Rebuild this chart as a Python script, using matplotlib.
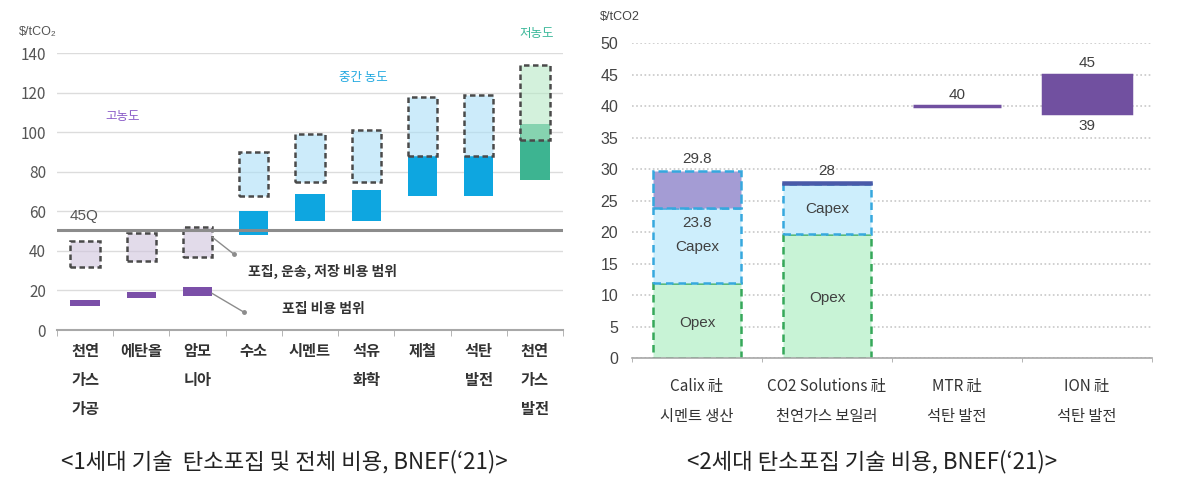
import matplotlib.pyplot as plt
import matplotlib.colors as mcolors
import numpy as np

plt.rcParams['font.family'] = ['Noto Sans CJK KR', 'DejaVu Sans']

# ---- data: 1st generation (left) ----
sectors = ['천연\n가스\n가공', '에탄올', '암모\n니아', '수소', '시멘트', '석유\n화학', '제철', '석탄\n발전', '천연\n가스\n발전']
groups = ['high', 'high', 'high', 'mid', 'mid', 'mid', 'mid', 'mid', 'low']
capture_lo = [12, 16, 17, 48, 55, 55, 68, 68, 76]
capture_hi = [15, 19, 22, 60, 69, 71, 88, 88, 104]
total_lo = [32, 35, 37, 68, 75, 75, 88, 88, 96]
total_hi = [45, 49, 52, 90, 99, 101, 118, 119, 134]
credit_45q = 50.5

# ---- data: 2nd generation (right) ----
companies = ['Calix 社\n시멘트 생산', 'CO2 Solutions 社\n천연가스 보일러', 'MTR 社\n석탄 발전', 'ION 社\n석탄 발전']
opex_top = [11.9, 19.8]
capex_top = [23.8, 27.6]
total_top = [29.8, 28.0]
range_lo = [40, 39]
range_hi = [40, 45]

solid_col = {'high': '#7b4fa8', 'mid': '#0ea6e0', 'low': '#3db491'}
box_col = {'high': '#cfc3dc', 'mid': '#aadff7', 'low': '#b7e9c6'}
text_col = {'high': '#8a5cc8', 'mid': '#22a9e0', 'low': '#3cb89a'}

fig = plt.figure(figsize=(11.92, 4.86), dpi=100)

# ================= left chart =================
ax1 = fig.add_axes([57/1192, 1-330/486, 506/1192, (330-53.3)/486])
x = np.arange(len(sectors))
w = 0.52
cap_h = np.array(capture_hi) - np.array(capture_lo)
tot_h = np.array(total_hi) - np.array(total_lo)
ax1.bar(x, cap_h, bottom=capture_lo, width=w, color=[solid_col[g] for g in groups], zorder=2)
ax1.bar(x, tot_h, bottom=total_lo, width=w,
        facecolor=[mcolors.to_rgba(box_col[g], 0.6) for g in groups],
        edgecolor='#4a4a4a', linestyle=(0, (2.2, 1.4)), linewidth=1.8, zorder=3)
ax1.axhline(credit_45q, color='#8c8c8c', lw=2.2, zorder=4)

ax1.set_xlim(-0.5, len(sectors)-0.5)
ax1.set_ylim(0, 140)
ax1.set_yticks(range(0, 141, 20))
ax1.grid(axis='y', color='#dcdcdc', lw=1)
ax1.set_axisbelow(True)
for s in ['top', 'right', 'left']:
    ax1.spines[s].set_visible(False)
ax1.spines['bottom'].set_color('#a8a8a8')
ax1.spines['bottom'].set_linewidth(1.5)
ax1.tick_params(axis='y', length=0, pad=8, labelsize=11, labelcolor='#555555')
ax1.set_xticks(x, sectors, fontsize=11, fontweight='bold', color='#333333', linespacing=2.0)
ax1.set_xticks(np.arange(-0.5, len(sectors), 1), minor=True)
ax1.tick_params(axis='x', which='major', length=0, pad=9)
ax1.tick_params(axis='x', which='minor', length=4, color='#a8a8a8')

ax1.text(-0.27, 57.5, '45Q', fontsize=11, color='#555555', va='center', ha='left',
         family=['Liberation Sans', 'DejaVu Sans'])
ax1.text(0.67, 108, '고농도', fontsize=9, color=text_col['high'], ha='center', va='center')
ax1.text(4.95, 128, '중간 농도', fontsize=9, color=text_col['mid'], ha='center', va='center')
ax1.text(8.04, 150, '저농도', fontsize=9, color=text_col['low'], ha='center', va='center', clip_on=False)

# leader lines from the ammonia bars
ax1.plot([2 + w/2, 2.64], [total_hi[2] - 5, 38.5], color='#8c8c8c', lw=1, zorder=5)
ax1.plot([2.64], [38.5], marker='o', ms=2.5, color='#8c8c8c', zorder=5)
ax1.plot([2 + w/2, 2.82], [capture_lo[2] + 1.5, 9.1], color='#8c8c8c', lw=1, zorder=5)
ax1.plot([2.82], [9.1], marker='o', ms=2.5, color='#8c8c8c', zorder=5)
ax1.text(2.9, 29.4, '포집, 운송, 저장 비용 범위', fontsize=10, fontweight='bold', color='#333333', va='center')
ax1.text(3.5, 10.6, '포집 비용 범위', fontsize=10, fontweight='bold', color='#333333', va='center')

fig.text(38/1192, 1-32/486, '$/tCO₂', fontsize=9, color='#555555', ha='center', va='center',
         family=['Liberation Sans', 'DejaVu Sans'])
fig.text(284/1192, 1-462/486, "<1세대 기술  탄소포집 및 전체 비용, BNEF(\u201821)>", fontsize=16,
         ha='center', va='center', color='#222222')

# ================= right chart =================
ax2 = fig.add_axes([632/1192, 1-358.3/486, 520/1192, 315/486])
xc = np.arange(len(companies))
w2 = 0.67
green_f, green_e = '#c8f3d6', '#36a85a'
blue_f, blue_e = '#cdeefc', '#36a8de'
top_f = ['#a49cd4', '#4a5aa8']
top_e = [blue_e, '#4a5aa8']
top_ls = ['--', '-']
for i in range(2):
    ax2.bar(xc[i], opex_top[i], width=w2, facecolor=green_f, edgecolor=green_e,
            linestyle=(0, (3, 2)), linewidth=1.8, zorder=2)
    ax2.bar(xc[i], capex_top[i] - opex_top[i], bottom=opex_top[i], width=w2, facecolor=blue_f,
            edgecolor=blue_e, linestyle=(0, (3, 2)), linewidth=1.8, zorder=2)
    ax2.bar(xc[i], total_top[i] - capex_top[i], bottom=capex_top[i], width=w2, facecolor=top_f[i],
            edgecolor=top_e[i], linestyle=top_ls[i], linewidth=1.8, zorder=2)

ax2.bar(xc[2:], np.array(range_hi) - np.array(range_lo), bottom=range_lo, width=w2,
        facecolor='#7150a0', edgecolor='#7150a0', linewidth=2.5, zorder=2)

lbl = dict(fontsize=11, color='#404040', ha='center', va='center',
           family=['Liberation Sans', 'DejaVu Sans'])
for i in range(2):
    ax2.text(xc[i], total_top[i] + 1.8, f'{total_top[i]:g}', **lbl)
    ax2.text(xc[i], opex_top[i] / 2 - 0.3, 'Opex', **lbl)
ax2.text(xc[0], capex_top[0] - 2.3, f'{capex_top[0]:g}', **lbl)
ax2.text(xc[0], capex_top[0] - 6.1, 'Capex', **lbl)
ax2.text(xc[1], (opex_top[1] + capex_top[1]) / 2, 'Capex', **lbl)
for j in range(2):
    ax2.text(xc[2 + j], range_hi[j] + 1.8, f'{range_hi[j]:g}', **lbl)
ax2.text(xc[3], range_lo[1] - 2.2, f'{range_lo[1]:g}', **lbl)

ax2.set_xlim(-0.5, len(companies)-0.5)
ax2.set_ylim(0, 50)
ax2.set_yticks(range(0, 51, 5))
ax2.grid(axis='y', color='#c8c8c8', lw=1.2, linestyle=(0, (1, 1.5)))
ax2.set_axisbelow(True)
for s in ['top', 'right', 'left']:
    ax2.spines[s].set_visible(False)
ax2.spines['bottom'].set_color('#a8a8a8')
ax2.spines['bottom'].set_linewidth(1.2)
ax2.tick_params(axis='y', length=0, pad=10, labelsize=11.5, labelcolor='#444444')
for t in ax2.get_yticklabels():
    t.set_family(['Liberation Sans', 'DejaVu Sans'])
ax2.set_xticks(xc, companies, fontsize=11, color='#333333', linespacing=2.0)
ax2.set_xticks(np.arange(-0.5, len(companies), 1), minor=True)
ax2.tick_params(axis='x', which='major', length=0, pad=14)
ax2.tick_params(axis='x', which='minor', length=3, color='#a8a8a8')

fig.text(620/1192, 1-17/486, '$/tCO2', fontsize=9, color='#444444', ha='center', va='center',
         family=['Liberation Sans', 'DejaVu Sans'])
fig.text(872/1192, 1-462/486, "<2세대 탄소포집 기술 비용, BNEF(\u201821)>", fontsize=16,
         ha='center', va='center', color='#222222')

fig.savefig('out.png', dpi=100)
